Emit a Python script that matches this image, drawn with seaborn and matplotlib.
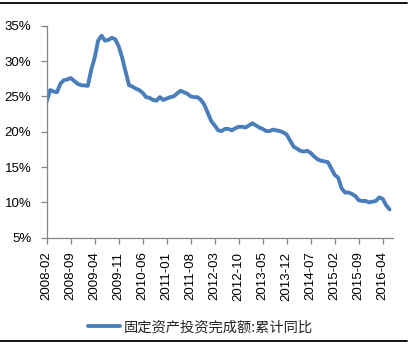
import matplotlib
matplotlib.use("Agg")
import matplotlib.pyplot as plt
from matplotlib.lines import Line2D
from matplotlib.ticker import FuncFormatter
import seaborn as sns
import pandas as pd

# Fixed-asset investment, cumulative year-on-year growth (%), Feb..Dec each year
# (January is not published separately)
fai_2008 = [24.3, 25.9, 25.7, 25.6, 26.8, 27.3, 27.4, 27.6, 27.2, 26.8, 26.6]
fai_2009 = [26.5, 28.8, 30.5, 32.9, 33.6, 32.9, 33.0, 33.3, 33.1, 32.1, 30.5]
fai_2010 = [26.6, 26.4, 26.1, 25.9, 25.5, 24.9, 24.8, 24.5, 24.4, 24.9, 24.5]
fai_2011 = [24.9, 25.0, 25.4, 25.8, 25.6, 25.4, 25.0, 24.9, 24.9, 24.5, 23.8]
fai_2012 = [21.5, 20.9, 20.2, 20.1, 20.4, 20.4, 20.2, 20.5, 20.7, 20.7, 20.6]
fai_2013 = [21.2, 20.9, 20.6, 20.4, 20.1, 20.1, 20.3, 20.2, 20.1, 19.9, 19.6]
fai_2014 = [17.9, 17.6, 17.3, 17.2, 17.3, 17.0, 16.5, 16.1, 15.9, 15.8, 15.7]
fai_2015 = [13.9, 13.5, 12.0, 11.4, 11.4, 11.2, 10.9, 10.3, 10.2, 10.2, 10.0]
fai_2016 = [10.2, 10.7, 10.5, 9.6, 9.0]

years = [2008, 2009, 2010, 2011, 2012, 2013, 2014, 2015, 2016]
series_by_year = [fai_2008, fai_2009, fai_2010, fai_2011, fai_2012,
                  fai_2013, fai_2014, fai_2015, fai_2016]

tick_labels = ["2008-02", "2008-09", "2009-04", "2009-11", "2010-06",
               "2011-01", "2011-08", "2012-03", "2012-10", "2013-05",
               "2013-12", "2014-07", "2015-02", "2015-09", "2016-04"]

series_name = "固定资产投资完成额:累计同比"

rows = []
for yr, vals in zip(years, series_by_year):
    for i, v in enumerate(vals):
        rows.append({"date": pd.Period(f"{yr}-{i + 2:02d}", freq="M"), "value": v})
df = pd.DataFrame(rows)
start = pd.Period("2008-02", freq="M")
df["month"] = [(d - start).n for d in df["date"]]
tick_pos = [(pd.Period(t, freq="M") - start).n for t in tick_labels]

sns.set_style("white")
plt.rcParams["font.family"] = ["Liberation Sans", "Noto Sans CJK SC", "DejaVu Sans"]

fig = plt.figure(figsize=(4.15, 3.44), dpi=100)
ax = fig.add_axes([0.1125, 0.309, 0.947 - 0.1125, 0.925 - 0.309])

line_color = "#4a7ebb"
sns.lineplot(data=df, x="month", y="value", ax=ax, color=line_color,
             linewidth=2.8, label=series_name, legend=False)

ax.set_xlim(0, 101)
ax.set_ylim(5, 35)
ax.set_yticks([5, 10, 15, 20, 25, 30, 35])
ax.yaxis.set_major_formatter(FuncFormatter(lambda v, p: f"{v:.0f}%"))
ax.set_xticks(tick_pos)
ax.set_xticklabels(tick_labels, rotation=90)
ax.set_xlabel("")
ax.set_ylabel("")

for side in ("top", "right"):
    ax.spines[side].set_visible(False)
for side in ("left", "bottom"):
    ax.spines[side].set_color("#868686")
    ax.spines[side].set_linewidth(0.9)

ax.tick_params(axis="both", which="major", direction="out", length=4,
               width=0.9, color="#868686", labelsize=9.5, labelcolor="black")
ax.tick_params(axis="x", bottom=True, pad=6)
ax.tick_params(axis="y", left=True, pad=7)

handles = [Line2D([0], [0], color=line_color, linewidth=2.8)]
fig.legend(handles, [series_name], loc="center", bbox_to_anchor=(0.482, 0.049),
           frameon=False, handlelength=2.3, handletextpad=0.2,
           prop={"family": ["Noto Sans CJK SC", "DejaVu Sans"], "size": 10.3})

# Black rules framing the chart top and bottom
fig.add_artist(Line2D([0.0, 407 / 415], [1 - 2.5 / 344, 1 - 2.5 / 344],
                      color="black", linewidth=1.3, transform=fig.transFigure))
fig.add_artist(Line2D([0.0, 407 / 415], [1 - 340.5 / 344, 1 - 340.5 / 344],
                      color="black", linewidth=1.3, transform=fig.transFigure))

fig.savefig("out.png", dpi=100)
